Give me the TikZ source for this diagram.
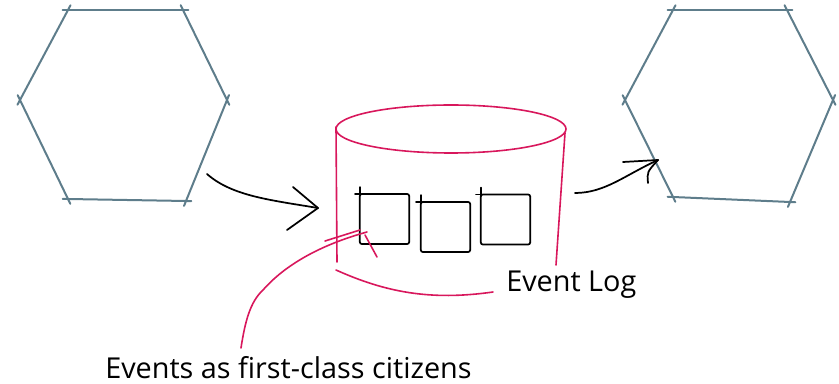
\documentclass[tikz,border=0pt]{standalone}
\usepackage{fontspec}
\setmainfont{Open Sans}
\usetikzlibrary{arrows.meta,positioning,calc}
\definecolor{hexline}{HTML}{5E7D8B}
\definecolor{logline}{HTML}{D8175C}

\begin{document}
\begin{tikzpicture}[x=0.75pt, y=-0.75pt,
  hexedge/.style={draw=hexline, line width=1.5pt, line cap=round},
  logedge/.style={draw=logline, line width=1.2pt, line cap=round},
  evbox/.style={draw, line width=1.3pt, rounded corners=1.5pt, minimum width=37pt, minimum height=37.5pt, inner sep=0pt},
  arr/.style={line width=1.3pt, line cap=round, line join=round},
  lbl/.style={font=\fontsize{21.6}{24}\selectfont, inner sep=0pt}
]
  \useasboundingbox (0,0) rectangle (839,384);

  % Left: producer service
  \coordinate (a1) at (68,10);
  \coordinate (a2) at (183,10);
  \coordinate (a3) at (227,100);
  \coordinate (a4) at (186,201);
  \coordinate (a5) at (68,199);
  \coordinate (a6) at (20,100);
  \foreach \p/\q in {a1/a2,a2/a3,a3/a4,a4/a5,a5/a6,a6/a1}
    \draw[hexedge] ($(\p)!-4pt!(\q)$) -- ($(\q)!-4pt!(\p)$);

  % Right: consumer service
  \coordinate (b1) at (673,10);
  \coordinate (b2) at (787,10);
  \coordinate (b3) at (833,100);
  \coordinate (b4) at (790,202);
  \coordinate (b5) at (673,197);
  \coordinate (b6) at (625,100);
  \foreach \p/\q in {b1/b2,b2/b3,b3/b4,b4/b5,b5/b6,b6/b1}
    \draw[hexedge] ($(\p)!-4pt!(\q)$) -- ($(\q)!-4pt!(\p)$);

  % Middle: the log
  \draw[logedge] (451,129) ellipse [x radius=86.25pt, y radius=18pt];
  \draw[logedge] (336,127) -- (337,262);
  \draw[logedge] (565,133) -- (556,265);
  \draw[logedge] (336,270) .. controls (385,292) and (430,301) .. (493,292);

  % Events
  \node[evbox] (ev1) at (384.5,219) {};
  \node[evbox] (ev2) at (445.5,227) {};
  \node[evbox] (ev3) at (505.5,219.5) {};
  \foreach \e in {ev1,ev2,ev3} {
    \draw[arr] (\e.north west) ++(1,2) -- ++(0,-8);
    \draw[arr] (\e.north west) ++(2,1) -- ++(-6,0);
  }

  % Labels
  \node[lbl, anchor=base west] (logname) at (506,292) {Event Log};
  \node[lbl, anchor=base west] (evname) at (105,379) {Events as first-class citizens};

  % Leader to the events
  \coordinate (lead) at (367,232);
  \draw[logedge] (241,348)
    .. controls (245,322) and (250,302) .. (263,290)
    .. controls (285,265) and (320,245) .. (lead);
  \draw[logedge] (325,241) -- (360,230);
  \draw[logedge] (365,235) -- (377,257);

  % Arrows in and out
  \coordinate (inA) at (207,174);
  \coordinate (inB) at (318,208);
  \draw[arr] (inA) .. controls (232,196) and (270,200) .. (inB);
  \draw[arr] (293,187) -- (inB) -- (287,230);

  \coordinate (outA) at (575,193);
  \coordinate (outB) at (658,160);
  \draw[arr] (outA) .. controls (605,193) and (625,175) .. (outB);
  \draw[arr] (623,162) -- (outB);
  \draw[arr] (648,183) .. controls (647,172) .. (outB);
\end{tikzpicture}
\end{document}
